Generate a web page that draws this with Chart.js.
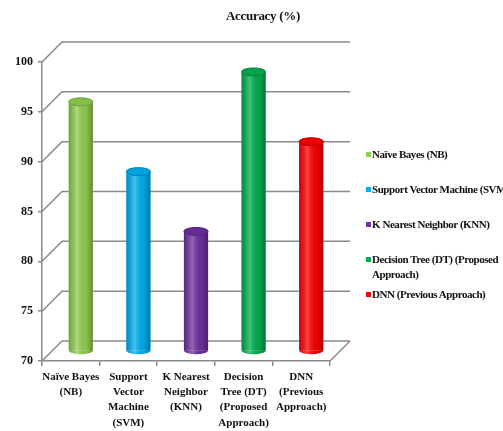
<!DOCTYPE html>
<html>
<head>
<meta charset="utf-8">
<script src="https://cdn.jsdelivr.net/npm/chart.js@4.4.1/dist/chart.umd.min.js"></script>
<style>
  html, body { margin: 0; padding: 0; background: #fff; }
  #wrap { position: relative; width: 503px; height: 431px; overflow: hidden; }
  #title {
    position: absolute; left: 0; width: 526px; top: 8px; text-align: center;
    font: bold 13px "Liberation Serif", serif; color: #111; letter-spacing: -0.3px;
  }
  #legend { position: absolute; left: 366px; top: 0; width: 150px; }
  .leg-item {
    position: absolute; left: 0; width: 150px; white-space: nowrap;
    font: bold 11px/15px "Liberation Serif", serif; color: #111; letter-spacing: -0.45px;
  }
  .leg-item span.box { display: inline-block; width: 5px; height: 5px; margin-right: 1px; vertical-align: 1px; }
  .leg-item .indent { padding-left: 6px; }
</style>
</head>
<body>
<div id="wrap">
  <canvas id="chart" width="503" height="431"></canvas>
  <div id="title">Accuracy (%)</div>
  <div id="legend"></div>
</div>
<script>
// Accuracy per classifier — pseudo-3D cylinder look
const categories = [
  ["Naïve Bayes", "(NB)"],
  ["Support", "Vector", "Machine", "(SVM)"],
  ["K Nearest", "Neighbor", "(KNN)"],
  ["Decision", "Tree (DT)", "(Proposed", "Approach)"],
  ["DNN", "(Previous", "Approach)"],
];
const legendNames = [
  ["Naïve Bayes (NB)"],
  ["Support Vector Machine (SVM)"],
  ["K Nearest Neighbor (KNN)"],
  ["Decision Tree (DT) (Proposed", "Approach)"],
  ["DNN (Previous Approach)"],
];
const accuracy = [95, 88, 82, 98, 91];
const colors = ["#92D050", "#00B0F0", "#7030A0", "#00B050", "#FF0000"];
const yTicks = [70, 75, 80, 85, 90, 95, 100];

const DX = 20, DY = 20, RY = 4;
const GRID = "#8a8a8a";
const FONT = "'Liberation Serif', serif";

function shade(hex, f) {
  const n = parseInt(hex.slice(1), 16);
  const ch = [(n >> 16) & 255, (n >> 8) & 255, n & 255].map((c) =>
    Math.round(f < 0 ? c * (1 + f) : c + (255 - c) * f)
  );
  return `rgb(${ch.join(",")})`;
}

// back wall / floor lines and cylinder shading
const depthPlugin = {
  id: "depth",
  beforeDatasetsDraw(chart) {
    const { ctx, chartArea: a, scales: { y } } = chart;
    ctx.save();
    ctx.strokeStyle = GRID;
    ctx.lineWidth = 1.5;
    y.ticks.forEach((t) => {
      const py = y.getPixelForValue(t.value);
      ctx.beginPath();
      ctx.moveTo(a.left, py);
      ctx.lineTo(a.left + DX, py - DY);
      ctx.lineTo(a.right + DX, py - DY);
      ctx.stroke();
    });
    const py0 = y.getPixelForValue(y.min);
    ctx.beginPath();
    ctx.moveTo(a.right, py0);
    ctx.lineTo(a.right + DX, py0 - DY);
    ctx.stroke();
    ctx.restore();
    // bars sit half way into the depth
    ctx.save();
    ctx.translate(DX / 2, -DY / 2);
  },
  afterDatasetsDraw(chart) {
    const { ctx } = chart;
    const meta = chart.getDatasetMeta(0);
    meta.data.forEach((bar, i) => {
      const { x, y, base, width } = bar.getProps(["x", "y", "base", "width"], true);
      const l = x - width / 2;
      const r = width / 2;
      // rounded bottom
      ctx.fillStyle = colors[i];
      ctx.beginPath();
      ctx.ellipse(x, base, r, RY, 0, 0, Math.PI);
      ctx.fill();
      const g = ctx.createLinearGradient(l, 0, l + width, 0);
      g.addColorStop(0, "rgba(0,0,0,0.22)");
      g.addColorStop(0.35, "rgba(255,255,255,0.25)");
      g.addColorStop(0.7, "rgba(0,0,0,0.05)");
      g.addColorStop(1, "rgba(0,0,0,0.32)");
      ctx.fillStyle = g;
      ctx.beginPath();
      ctx.moveTo(l, y);
      ctx.lineTo(l, base);
      ctx.ellipse(x, base, r, RY, 0, Math.PI, 0, true);
      ctx.lineTo(l + width, y);
      ctx.closePath();
      ctx.fill();
      // top cap
      ctx.fillStyle = shade(colors[i], -0.08);
      ctx.strokeStyle = shade(colors[i], -0.25);
      ctx.lineWidth = 1;
      ctx.beginPath();
      ctx.ellipse(x, y, r, RY, 0, 0, Math.PI * 2);
      ctx.fill();
      ctx.stroke();
    });
    ctx.restore();
  },
};

new Chart(document.getElementById("chart"), {
  type: "bar",
  data: {
    labels: categories,
    datasets: [
      {
        data: accuracy,
        backgroundColor: colors,
        borderWidth: 0,
        barPercentage: 0.42,
        categoryPercentage: 1,
        base: 70,
        clip: false,
      },
    ],
  },
  options: {
    responsive: false,
    animation: false,
    layout: { padding: { top: 62, right: 173, left: 0, bottom: 0 } },
    plugins: { legend: { display: false }, title: { display: false }, tooltip: { enabled: false } },
    scales: {
      x: {
        afterFit(s) { s.height = 70; },
        grid: { offset: true, drawOnChartArea: false, tickLength: 5, color: GRID, lineWidth: 1.5 },
        border: { color: GRID, width: 1.5 },
        ticks: {
          color: "#111",
          padding: 3,
          maxRotation: 0,
          autoSkip: false,
          font: { family: FONT, weight: "bold", size: 11, lineHeight: 1.4 },
        },
      },
      y: {
        min: 70,
        max: 100,
        afterFit(s) { s.width = 42; },
        afterBuildTicks(s) { s.ticks = yTicks.map((v) => ({ value: v })); },
        grid: { drawOnChartArea: false, tickLength: 4, color: GRID, lineWidth: 1.5 },
        border: { color: GRID, width: 1.5 },
        ticks: {
          color: "#111",
          padding: 5,
          font: { family: FONT, weight: "bold", size: 12 },
        },
      },
    },
  },
  plugins: [depthPlugin],
});

// legend as HTML so long entries can wrap like the original
const legendEl = document.getElementById("legend");
legendNames.forEach((lines, i) => {
  const item = document.createElement("div");
  item.className = "leg-item";
  item.style.top = `${147 + 35 * i}px`;
  item.innerHTML =
    `<span class="box" style="background:${colors[i]}"></span>${lines[0]}` +
    lines.slice(1).map((t) => `<div class="indent">${t}</div>`).join("");
  legendEl.appendChild(item);
});
</script>
</body>
</html>
